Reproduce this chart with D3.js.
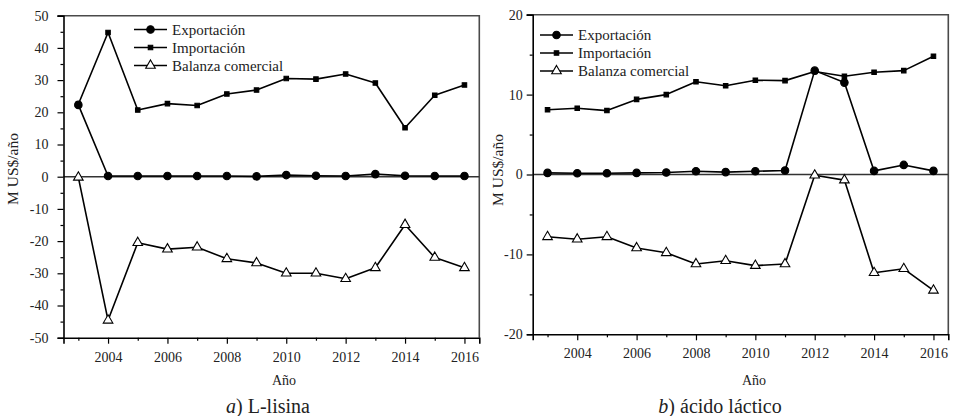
<!DOCTYPE html>
<html>
<head>
<meta charset="utf-8">
<script src="https://cdn.jsdelivr.net/npm/d3@7/dist/d3.min.js"></script>
<style>
  body { margin: 0; background: #fff; }
  svg { display: block; }
</style>
</head>
<body>
<svg id="chart" width="954" height="416"></svg>
<script>
// Years on the horizontal axis
const years = [2003, 2004, 2005, 2006, 2007, 2008, 2009, 2010, 2011, 2012, 2013, 2014, 2015, 2016];

// a) L-lisina, millions of US$ per year
const lisinaExport  = [22.3, 0.2, 0.2, 0.2, 0.2, 0.2, 0.1, 0.5, 0.3, 0.2, 0.8, 0.3, 0.2, 0.2];
const lisinaImport  = [22.5, 44.8, 20.7, 22.7, 22.1, 25.7, 26.9, 30.5, 30.3, 31.9, 29.1, 15.2, 25.3, 28.5];
const lisinaBalance = [-0.2, -44.6, -20.5, -22.5, -21.9, -25.5, -26.8, -30.0, -30.0, -31.7, -28.3, -14.9, -25.1, -28.3];

// b) ácido láctico, millions of US$ per year
const lacticExport  = [0.2, 0.15, 0.15, 0.2, 0.25, 0.4, 0.3, 0.4, 0.5, 13.0, 11.5, 0.45, 1.2, 0.45];
const lacticImport  = [8.1, 8.3, 8.0, 9.4, 10.0, 11.6, 11.1, 11.8, 11.75, 12.9, 12.3, 12.8, 13.0, 14.8];
const lacticBalance = [-7.8, -8.1, -7.8, -9.2, -9.8, -11.2, -10.8, -11.4, -11.2, -0.1, -0.7, -12.3, -11.8, -14.5];

// Tick values
const xMajorTicks = [2004, 2006, 2008, 2010, 2012, 2014, 2016];
const xMinorTicks = [2003, 2005, 2007, 2009, 2011, 2013, 2015];
const lisinaYMajor = [-50, -40, -30, -20, -10, 0, 10, 20, 30, 40, 50];
const lisinaYMinor = [-45, -35, -25, -15, -5, 5, 15, 25, 35, 45];
const lacticYMajor = [-20, -10, 0, 10, 20];
const lacticYMinor = [-15, -5, 5, 15];

const seriesNames = ["Exportación", "Importación", "Balanza comercial"];
const axisTitleX = "Año";
const axisTitleY = "M US$/año";

const FONT = "'Liberation Serif', 'Times New Roman', 'DejaVu Serif', serif";
const svg = d3.select("#chart");
const plainNumber = d => String(d);

function drawPanel(p) {
  const x = d3.scaleLinear().domain([2002.5, 2016.5]).range([p.left, p.right]);
  const y = d3.scaleLinear().domain(p.yDomain).range([p.bottom, p.top]);
  const g = svg.append("g");

  // frame: top and right edges
  g.append("path")
    .attr("d", `M${p.left - 6},${p.top}H${p.right}V${p.bottom}`)
    .attr("fill", "none").attr("stroke", "#4a4a4a").attr("stroke-width", 1.6);

  // zero reference line
  g.append("line")
    .attr("x1", p.left).attr("x2", p.right)
    .attr("y1", y(0)).attr("y2", y(0))
    .attr("stroke", "#333").attr("stroke-width", 1.5);

  // y axis (major + minor ticks)
  g.append("g").attr("transform", `translate(${p.left},0)`)
    .call(d3.axisLeft(y).tickValues(p.yMajor).tickSize(6).tickPadding(p.yPad).tickFormat(plainNumber));
  g.append("g").attr("transform", `translate(${p.left},0)`)
    .call(d3.axisLeft(y).tickValues(p.yMinor).tickSize(3).tickFormat(""))
    .select(".domain").remove();

  // x axis (major + minor ticks)
  g.append("g").attr("transform", `translate(0,${p.bottom})`)
    .call(d3.axisBottom(x).tickValues(xMajorTicks).tickSize(6).tickPadding(8).tickFormat(plainNumber));
  g.append("g").attr("transform", `translate(0,${p.bottom})`)
    .call(d3.axisBottom(x).tickValues(xMinorTicks).tickSize(3).tickFormat(""))
    .select(".domain").remove();

  g.selectAll("g").attr("font-family", null);
  g.selectAll(".domain").attr("stroke", "#000").attr("stroke-width", 1.6);
  g.selectAll(".tick line").attr("stroke", "#000").attr("stroke-width", 1.2);
  g.selectAll(".tick text").attr("font-size", 14).attr("fill", "#222");

  // axis titles
  g.append("text")
    .attr("transform", `translate(${p.yTitleX},${p.yTitleY}) rotate(-90)`)
    .attr("text-anchor", "middle").attr("dominant-baseline", "middle")
    .attr("font-size", 15.5).attr("fill", "#222").text(axisTitleY);
  g.append("text")
    .attr("x", p.xTitleX).attr("y", 385)
    .attr("text-anchor", "middle").attr("font-size", 14).attr("fill", "#222").text(axisTitleX);

  // panel caption
  const cap = g.append("text")
    .attr("x", p.captionX).attr("y", 413)
    .attr("text-anchor", "middle").attr("font-size", 20).attr("fill", "#222");
  cap.append("tspan").attr("font-style", "italic").text(p.letter);
  cap.append("tspan").text(") " + p.name);

  const line = d3.line().x((d, i) => x(years[i])).y(d => y(d));
  const circle = d3.symbol().type(d3.symbolCircle).size(44);
  const square = d3.symbol().type(d3.symbolSquare).size(20);
  const triangle = d3.symbol().type(d3.symbolTriangle).size(40);

  const series = [
    { values: p.imp, shape: square, fill: "#000" },
    { values: p.bal, shape: triangle, fill: "#fff" },
    { values: p.exp, shape: circle, fill: "#000" }
  ];

  series.forEach(s => {
    g.append("path").datum(s.values)
      .attr("d", line).attr("fill", "none")
      .attr("stroke", "#000").attr("stroke-width", 1.6).attr("stroke-linejoin", "round");
  });
  series.forEach(s => {
    g.selectAll(null).data(s.values).join("path")
      .attr("transform", (d, i) => `translate(${x(years[i])},${y(d)})`)
      .attr("d", s.shape).attr("fill", s.fill)
      .attr("stroke", "#000").attr("stroke-width", 1.1);
  });

  // legend
  const legendShapes = [circle, square, triangle];
  const legendFills = ["#000", "#000", "#fff"];
  seriesNames.forEach((name, i) => {
    const ly = p.legendY + i * 18;
    g.append("line")
      .attr("x1", p.legendX).attr("x2", p.legendX + 33)
      .attr("y1", ly).attr("y2", ly)
      .attr("stroke", "#000").attr("stroke-width", 1.6);
    g.append("path")
      .attr("transform", `translate(${p.legendX + 16.5},${ly})`)
      .attr("d", legendShapes[i]).attr("fill", legendFills[i])
      .attr("stroke", "#000").attr("stroke-width", 1.1);
    g.append("text")
      .attr("x", p.legendX + 38).attr("y", ly + 5)
      .attr("font-size", 15).attr("fill", "#222").text(name);
  });
}

drawPanel({
  left: 63.5, right: 479.3, top: 15.7, bottom: 337.7,
  yDomain: [-50, 50], yMajor: lisinaYMajor, yMinor: lisinaYMinor, yPad: 9,
  exp: lisinaExport, imp: lisinaImport, bal: lisinaBalance,
  yTitleX: 14, yTitleY: 169, xTitleX: 284, captionX: 268,
  letter: "a", name: "L-lisina",
  legendX: 134, legendY: 29.5
});

drawPanel({
  left: 532.7, right: 948.3, top: 14.7, bottom: 334.3,
  yDomain: [-20, 20], yMajor: lacticYMajor, yMinor: lacticYMinor, yPad: 4,
  exp: lacticExport, imp: lacticImport, bal: lacticBalance,
  yTitleX: 499, yTitleY: 170, xTitleX: 754, captionX: 720,
  letter: "b", name: "ácido láctico",
  legendX: 540, legendY: 35
});

// serif typeface on every label
svg.selectAll("text").style("font-family", FONT);
</script>
</body>
</html>
